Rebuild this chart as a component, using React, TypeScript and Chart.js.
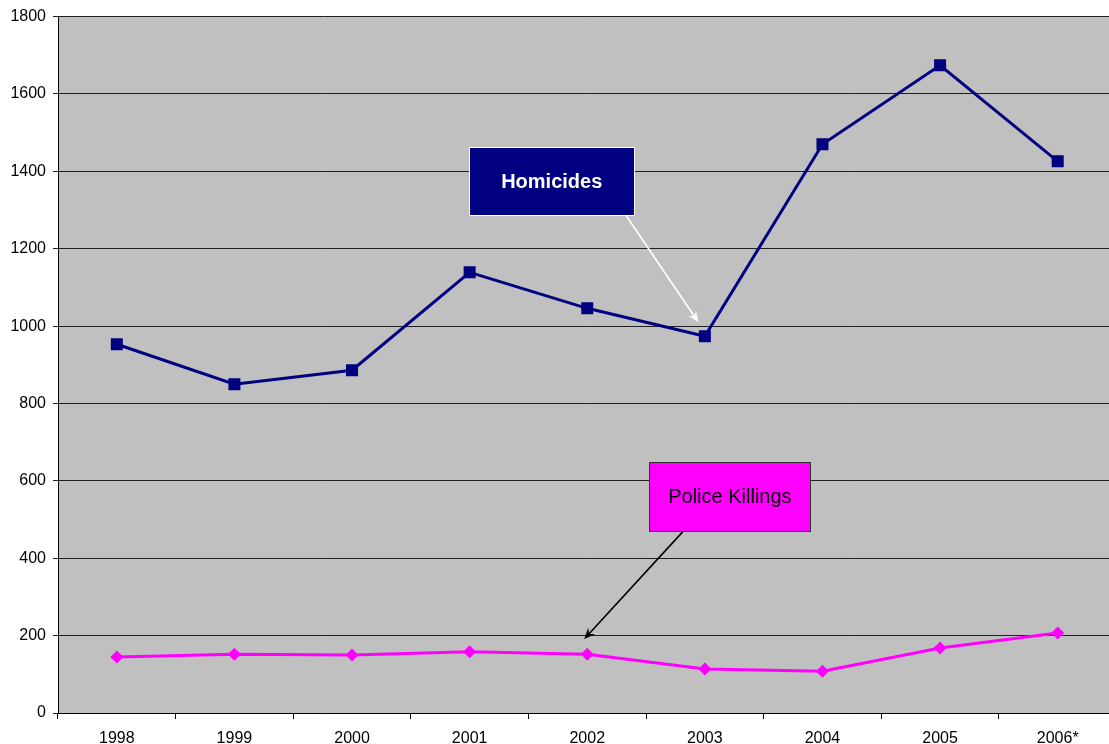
import React, { useEffect, useRef } from "react";
import { Chart, registerables } from "chart.js";

Chart.register(...registerables);

const years = ["1998", "1999", "2000", "2001", "2002", "2003", "2004", "2005", "2006*"];
const homicides = [953, 850, 886, 1139, 1046, 974, 1470, 1674, 1426];
const policeKillings = [145, 152, 150, 158, 152, 114, 108, 168, 207];
const yTicks = [0, 200, 400, 600, 800, 1000, 1200, 1400, 1600, 1800];

// Callout boxes in data units: [xIndexLeft, xIndexRight, yTop, yBottom]
const homicideBox = { x0: 2.996, x1: 4.4, y0: 1462, y1: 1286, text: "Homicides" };
const homicideArrow = { x0: 4.33, y0: 1286, x1: 4.945, y1: 1010 };
const policeBox = { x0: 4.528, x1: 5.898, y0: 648, y1: 470, text: "Police Killings" };
const policeArrow = { x0: 4.817, y0: 470, x1: 3.974, y1: 191 };

const FONT = "'Liberation Sans', Arial, sans-serif";

function drawArrow(ctx: CanvasRenderingContext2D, x0: number, y0: number, x1: number, y1: number, color: string) {
  const ang = Math.atan2(y1 - y0, x1 - x0);
  const head = 12;
  const spread = 0.4;
  ctx.save();
  ctx.strokeStyle = color;
  ctx.fillStyle = color;
  ctx.lineWidth = 1.6;
  ctx.beginPath();
  ctx.moveTo(x0, y0);
  ctx.lineTo(x1 - Math.cos(ang) * head * 0.6, y1 - Math.sin(ang) * head * 0.6);
  ctx.stroke();
  ctx.beginPath();
  ctx.moveTo(x1, y1);
  ctx.lineTo(x1 - head * Math.cos(ang - spread), y1 - head * Math.sin(ang - spread));
  ctx.lineTo(x1 - head * 0.6 * Math.cos(ang), y1 - head * 0.6 * Math.sin(ang));
  ctx.lineTo(x1 - head * Math.cos(ang + spread), y1 - head * Math.sin(ang + spread));
  ctx.closePath();
  ctx.fill();
  ctx.restore();
}

const calloutPlugin = {
  id: "callouts",
  afterDatasetsDraw(chart: any) {
    const { ctx, scales } = chart;
    const xs = scales.x;
    const ys = scales.y;
    const box = (b: any, fill: string, stroke: string, textColor: string, font: string) => {
      const left = xs.getPixelForValue(b.x0);
      const right = xs.getPixelForValue(b.x1);
      const top = ys.getPixelForValue(b.y0);
      const bottom = ys.getPixelForValue(b.y1);
      ctx.save();
      ctx.fillStyle = fill;
      ctx.fillRect(left, top, right - left, bottom - top);
      ctx.strokeStyle = stroke;
      ctx.lineWidth = 1;
      ctx.strokeRect(Math.round(left) + 0.5, Math.round(top) + 0.5, Math.round(right - left), Math.round(bottom - top));
      ctx.fillStyle = textColor;
      ctx.font = font;
      ctx.textAlign = "center";
      ctx.textBaseline = "middle";
      ctx.fillText(b.text, (left + right) / 2, (top + bottom) / 2 + 1);
      ctx.restore();
    };
    const arrow = (a: any, color: string) => {
      drawArrow(ctx, xs.getPixelForValue(a.x0), ys.getPixelForValue(a.y0), xs.getPixelForValue(a.x1), ys.getPixelForValue(a.y1), color);
    };
    arrow(homicideArrow, "#ffffff");
    box(homicideBox, "#000080", "#ffffff", "#ffffff", `bold 20px ${FONT}`);
    arrow(policeArrow, "#000000");
    box(policeBox, "#ff00ff", "#333333", "#000000", `20px ${FONT}`);
  },
};

const bgPlugin = {
  id: "plotBg",
  beforeDraw(chart: any) {
    const { ctx, chartArea } = chart;
    ctx.save();
    ctx.fillStyle = "#c0c0c0";
    ctx.fillRect(chartArea.left, chartArea.top, chartArea.right - chartArea.left, chartArea.bottom - chartArea.top);
    ctx.restore();
  },
};

export default function App() {
  const ref = useRef<HTMLCanvasElement | null>(null);
  useEffect(() => {
    document.body.style.margin = "0";
    const canvas = ref.current!;
    const chart = new Chart(canvas, {
      type: "line",
      data: {
        labels: years,
        datasets: [
          {
            label: "Homicides",
            data: homicides,
            borderColor: "#000080",
            backgroundColor: "#000080",
            borderWidth: 3,
            pointStyle: "rect",
            pointRadius: 8.5,
            pointBorderWidth: 0,
            tension: 0,
          },
          {
            label: "Police Killings",
            data: policeKillings,
            borderColor: "#ff00ff",
            backgroundColor: "#ff00ff",
            borderWidth: 3,
            pointStyle: "rectRot",
            pointRadius: 6.5,
            pointBorderWidth: 0,
            tension: 0,
          },
        ],
      },
      options: {
        responsive: false,
        animation: false,
        layout: { padding: { top: 16, left: 0, right: 0, bottom: 0 } },
        plugins: { legend: { display: false }, tooltip: { enabled: false } },
        scales: {
          x: {
            type: "category",
            offset: true,
            grid: {
              offset: true,
              drawOnChartArea: false,
              drawTicks: true,
              tickLength: 6,
              color: "#000000",
            },
            border: { color: "#000000", width: 1 },
            ticks: { color: "#000000", font: { family: FONT, size: 16 }, padding: 10, maxRotation: 0 },
            afterFit: (s: any) => { s.height = 31; },
          },
          y: {
            min: 0,
            max: 1800,
            afterBuildTicks: (s: any) => { s.ticks = yTicks.map((v) => ({ value: v })); },
            grid: { color: "#202020", lineWidth: 1, tickLength: 5, drawTicks: true },
            border: { color: "#000000", width: 1 },
            ticks: {
              color: "#000000",
              font: { family: FONT, size: 16 },
              padding: 7,
              callback: (v: any) => String(v),
            },
            afterFit: (s: any) => { s.width = 58; },
          },
        },
      },
      plugins: [bgPlugin, calloutPlugin],
    } as any);
    return () => chart.destroy();
  }, []);
  return (
    <div style={{ position: "fixed", left: 0, top: 0, width: 1109, height: 744, overflow: "hidden", background: "#fff" }}>
      <canvas ref={ref} width={1125} height={744} style={{ display: "block" }} />
    </div>
  );
}
